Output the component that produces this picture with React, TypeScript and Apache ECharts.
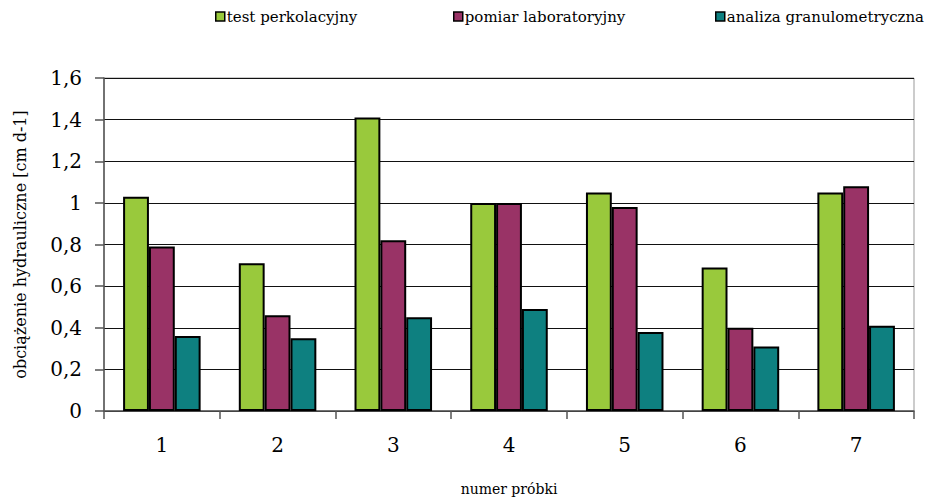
import React, { useEffect, useRef } from "react";
import * as echarts from "echarts";

const categories = ["1", "2", "3", "4", "5", "6", "7"];
const seriesNames = ["test perkolacyjny", "pomiar laboratoryjny", "analiza granulometryczna"];
const testPerkolacyjny = [1.03, 0.71, 1.41, 1.0, 1.05, 0.69, 1.05];
const pomiarLaboratoryjny = [0.79, 0.46, 0.82, 1.0, 0.98, 0.40, 1.08];
const analizaGranulometryczna = [0.36, 0.35, 0.45, 0.49, 0.38, 0.31, 0.41];
const colors = ["#99C93C", "#993366", "#0E8080"];
const font = "'DejaVu Serif', serif";

export default function App() {
  const ref = useRef<HTMLDivElement>(null);
  useEffect(() => {
    const chart = echarts.init(ref.current!, null, { renderer: "svg" });
    const values = [testPerkolacyjny, pomiarLaboratoryjny, analizaGranulometryczna];
    const legendX = [210, 448, 710];
    chart.setOption({
      animation: false,
      backgroundColor: "#fff",
      textStyle: { fontFamily: font },
      legend: seriesNames.map((n, i) => ({
        data: [n],
        left: legendX[i],
        top: 4,
        itemWidth: 9,
        itemHeight: 9,
        itemGap: 4,
        icon: "rect",
        itemStyle: { borderColor: "#000", borderWidth: 1.5 },
        textStyle: { fontFamily: font, fontSize: 15, color: "#000", padding: [0, 0, 0, -3] },
      })),
      grid: {
        left: 104,
        right: 35,
        top: 78,
        bottom: 86,
        outerBoundsMode: "none",
        containLabel: false,
        show: true,
        borderColor: "#999",
        borderWidth: 1,
      },
      xAxis: {
        type: "category",
        data: categories,
        name: "numer próbki",
        nameLocation: "middle",
        nameGap: 71,
        nameMoveOverlap: false,
        nameTextStyle: { fontFamily: font, fontSize: 14, color: "#000" },
        axisLine: { lineStyle: { color: "#555", width: 1.5 } },
        axisTick: { show: true, length: 8, lineStyle: { color: "#555", width: 1.5 } },
        axisLabel: { fontFamily: font, fontSize: 20, color: "#000", margin: 24 },
      },
      yAxis: {
        type: "value",
        min: 0,
        max: 1.6,
        interval: 0.2,
        name: "obciążenie hydrauliczne [cm d-1]",
        nameLocation: "middle",
        nameGap: 76,
        nameMoveOverlap: false,
        nameTextStyle: { fontFamily: font, fontSize: 16, color: "#000" },
        axisLine: { show: true, lineStyle: { color: "#555", width: 1.5 } },
        axisTick: { show: true, length: 9, lineStyle: { color: "#555", width: 1.5 } },
        axisLabel: {
          fontFamily: font,
          fontSize: 20,
          color: "#000",
          margin: 22,
          formatter: (v: number) => String(Math.round(v * 10) / 10).replace(".", ","),
        },
        splitLine: { lineStyle: { color: "#111", width: 1.2 } },
      },
      series: seriesNames.map((n, i) => ({
        name: n,
        type: "bar",
        data: values[i],
        barGap: "0%",
        barCategoryGap: "33%",
        itemStyle: { color: colors[i], borderColor: "#000", borderWidth: 2 },
      })),
    });
    return () => chart.dispose();
  }, []);
  return (
    <div
      ref={ref}
      style={{ position: "absolute", left: 0, top: 0, width: 949, height: 497 }}
    />
  );
}
